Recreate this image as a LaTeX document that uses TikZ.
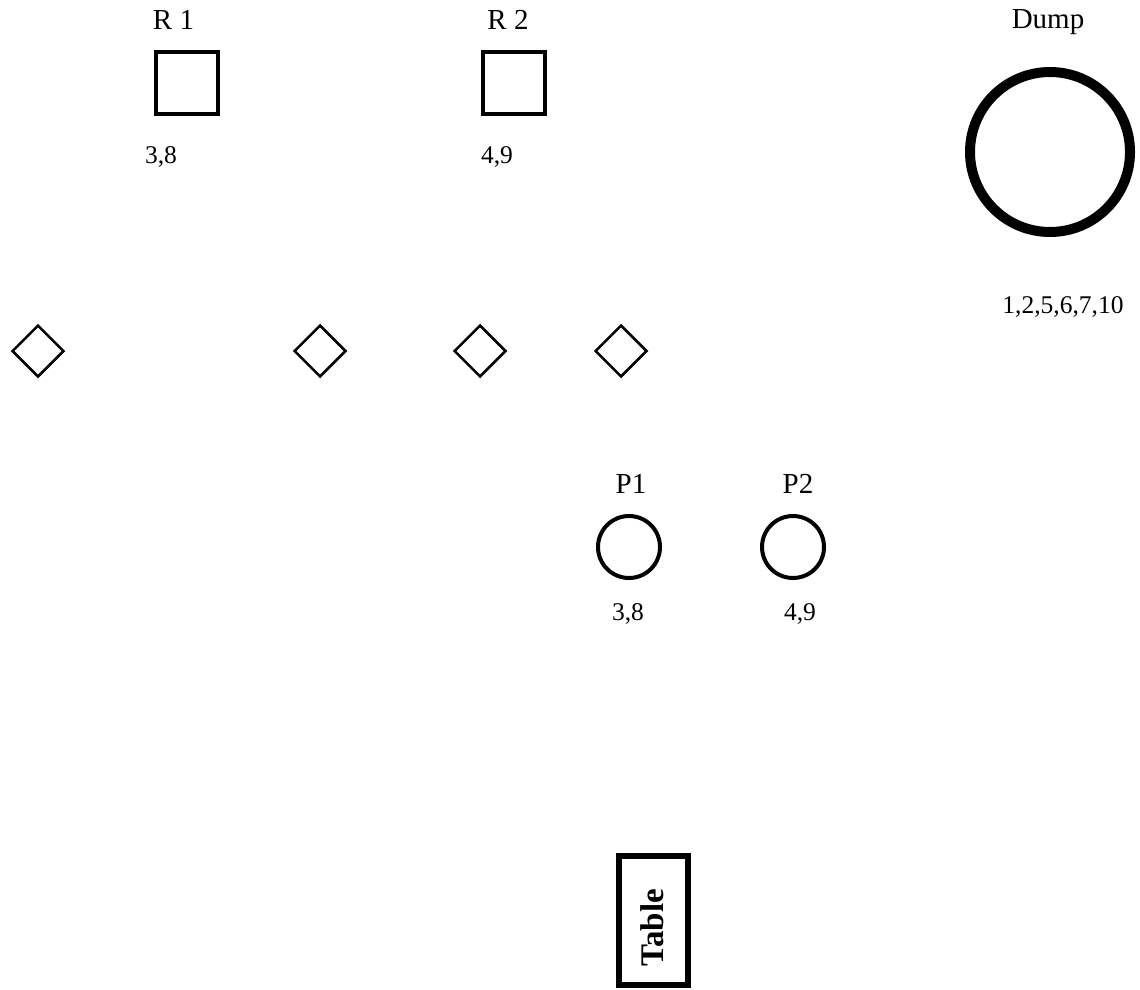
\documentclass[tikz,border=0pt]{standalone}
\usepackage{fontspec}
\setmainfont{Liberation Serif}
\usetikzlibrary{shapes.geometric}

\begin{document}
\begin{tikzpicture}[x=1pt,y=-1pt,
   lbl/.style={font=\fontsize{29}{33}\selectfont,inner sep=0pt,anchor=base},
   num/.style={font=\fontsize{25.5}{30}\selectfont,inner sep=0pt,anchor=base},
   rack/.style={draw,line width=4pt,minimum size=62pt,inner sep=0pt},
   spot/.style={draw,diamond,line width=2.5pt,minimum width=52pt,minimum height=52pt,inner sep=0pt},
   pot/.style={draw,circle,line width=4pt,minimum size=62pt,inner sep=0pt}]
   \useasboundingbox (0,0) rectangle (1140,990);
   % racks
   \node[rack] (r1) at (187,83) {};
   \node[rack] (r2) at (514,83) {};
   \node[lbl] (r1name) at (173.5,30) {R 1};
   \node[lbl] (r2name) at (508,30) {R 2};
   \node[num] (r1set) at (161,163) {3,8};
   \node[num] (r2set) at (497,163) {4,9};
   % dump
   \node[draw,circle,line width=10pt,minimum size=160pt,inner sep=0pt] (dump) at (1050,152) {};
   \node[lbl] (dumpname) at (1048,29) {Dump};
   \node[num] (dumpset) at (1063,313) {1,2,5,6,7,10};
   % spots
   \node[spot] (d1) at (38,351) {};
   \node[spot] (d2) at (320,351) {};
   \node[spot] (d3) at (480,351) {};
   \node[spot] (d4) at (621,351) {};
   % pots
   \node[pot] (p1) at (629,547) {};
   \node[pot] (p2) at (793,547) {};
   \node[lbl] (p1name) at (631,493) {P1};
   \node[lbl] (p2name) at (798,493) {P2};
   \node[num] (p1set) at (628,620) {3,8};
   \node[num] (p2set) at (800,620) {4,9};
   % table
   \node[draw,line width=6pt,minimum width=69pt,minimum height=129pt,inner sep=0pt] (table) at (653.5,920.5) {};
   \node[font=\fontsize{33}{38}\selectfont\bfseries,rotate=90,inner sep=0pt] (tablename) at (652,928) {Table};
\end{tikzpicture}
\end{document}
